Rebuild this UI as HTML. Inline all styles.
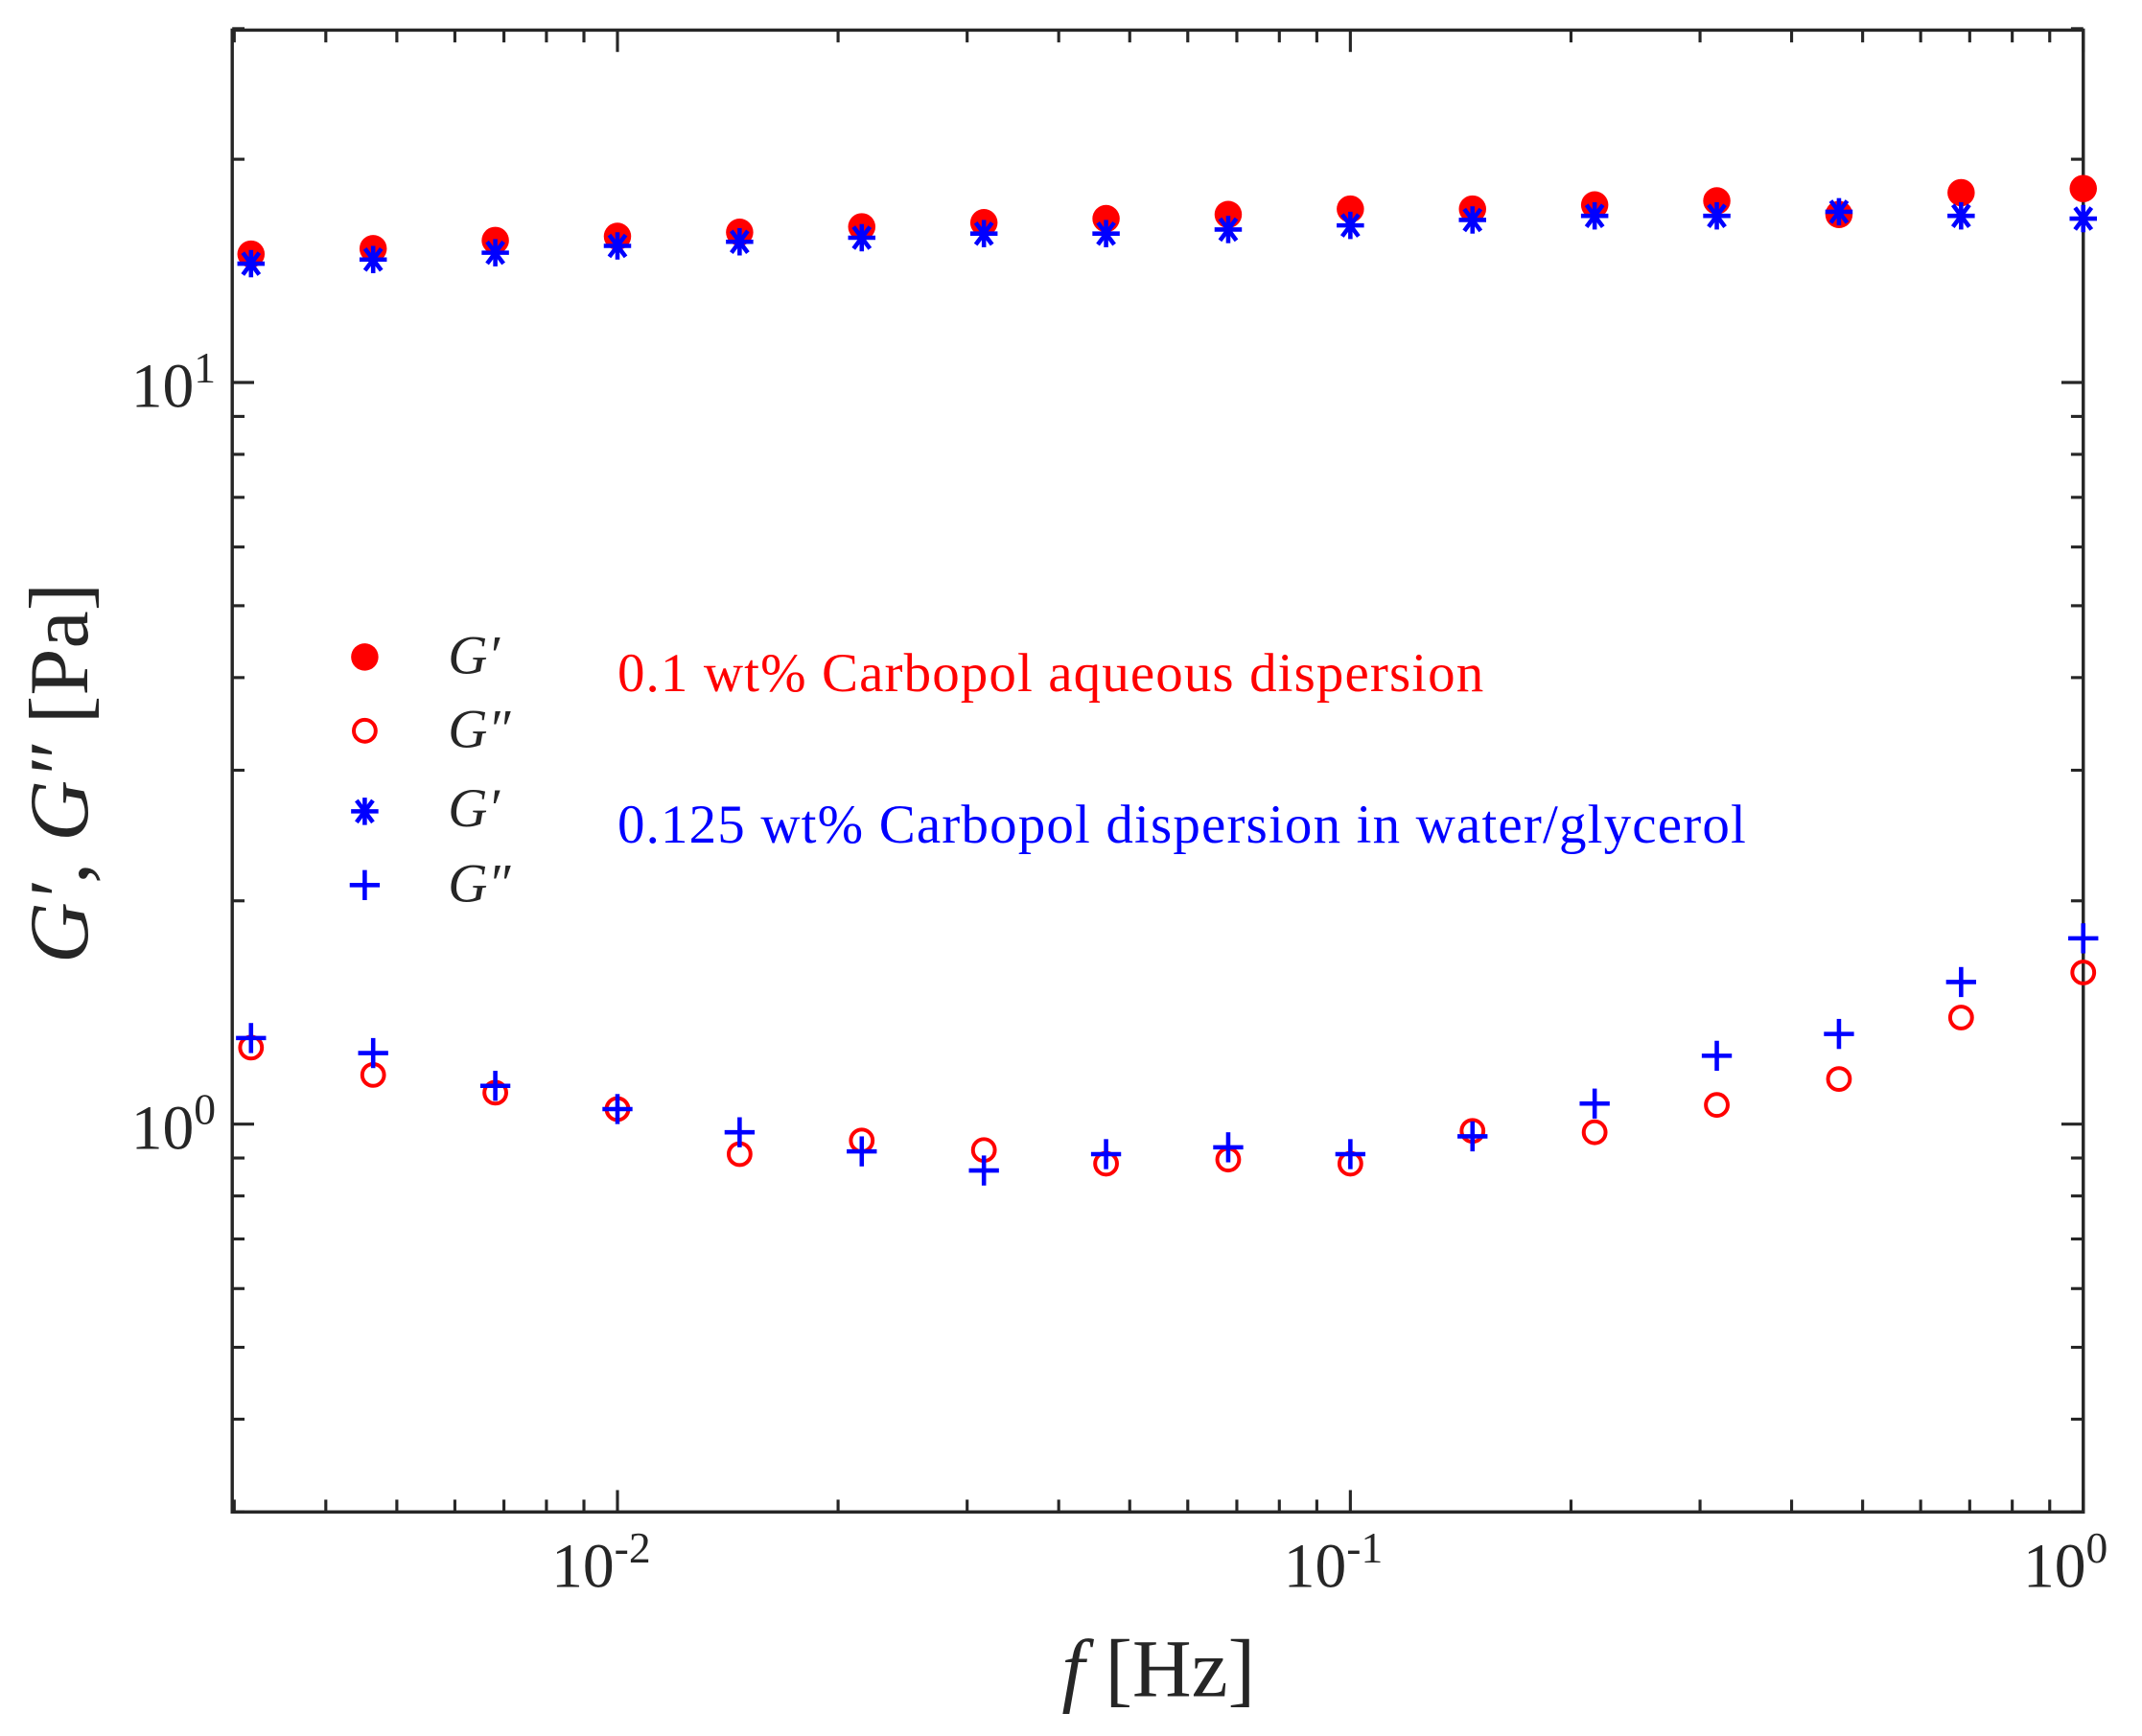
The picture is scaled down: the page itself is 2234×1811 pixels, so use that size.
<!DOCTYPE html>
<html><head><meta charset="utf-8"><style>
html,body{margin:0;padding:0;background:#fff}
svg{display:block}
text{font-family:"Liberation Serif",serif;fill:#262626}
</style></head><body>
<svg id="s" width="2234" height="1811" viewBox="0 0 1568 1271" xmlns="http://www.w3.org/2000/svg">
<rect x="0" y="0" width="1568" height="1271" fill="#fff"/>
<g id="ticks" stroke="#262626" stroke-width="2.2" fill="none"></g>
<rect x="170" y="22" width="1355" height="1085" fill="none" stroke="#262626" stroke-width="2.4"/>
<g id="pts"></g>
<text x="158" y="298" font-size="46" text-anchor="end">10<tspan dy="-18" font-size="32">1</tspan></text>
<text x="158" y="841" font-size="46" text-anchor="end">10<tspan dy="-18" font-size="32">0</tspan></text>
<text x="440" y="1162" font-size="46" text-anchor="middle">10<tspan dy="-18" font-size="32">-2</tspan></text>
<text x="976" y="1162" font-size="46" text-anchor="middle">10<tspan dy="-18" font-size="32">-1</tspan></text>
<text x="1512" y="1162" font-size="46" text-anchor="middle">10<tspan dy="-18" font-size="32">0</tspan></text>
<text x="848" y="1242" font-size="60" text-anchor="middle"><tspan font-style="italic">f</tspan>  [Hz]</text>
<text transform="translate(64,566) rotate(-90)" font-size="62" text-anchor="middle"><tspan font-style="italic">G′</tspan>, <tspan font-style="italic">G″</tspan> [Pa]</text>
<g id="leg"></g>
<text x="328" y="493" font-size="40" font-style="italic">G′</text>
<text x="328" y="547" font-size="40" font-style="italic">G″</text>
<text x="328" y="605" font-size="40" font-style="italic">G′</text>
<text x="328" y="660" font-size="40" font-style="italic">G″</text>
<text x="452" y="506" font-size="40" textLength="634" style="fill:#ff0000">0.1 wt% Carbopol aqueous dispersion</text>
<text x="452" y="617" font-size="40" textLength="826" style="fill:#0000ff">0.125 wt% Carbopol dispersion in water/glycerol</text>
</svg>
<script>
const NS="http://www.w3.org/2000/svg";
const X=f=>1525+536.5*Math.log10(f), Y=v=>823-543*Math.log10(v);
const t=document.getElementById('ticks');
function ln(x1,y1,x2,y2,p){const l=document.createElementNS(NS,'line');l.setAttribute('x1',x1);l.setAttribute('y1',y1);l.setAttribute('x2',x2);l.setAttribute('y2',y2);(p||t).appendChild(l);return l;}
for(let d=-3;d<=0;d++)for(let m=1;m<=9;m++){const f=m*Math.pow(10,d);if(f<0.00299||f>1.0001)continue;const x=X(f);const L=m==1?16:9;ln(x,1107,x,1107-L);ln(x,22,x,22+L);}
for(let d=-1;d<=1;d++)for(let m=1;m<=9;m++){const v=m*Math.pow(10,d);if(v<0.299||v>30.01)continue;const y=Y(v);const L=m==1?16:9;ln(170,y,170+L,y);ln(1525,y,1525-L,y);}
const p=document.getElementById('pts');
function el(n,a,par){const e=document.createElementNS(NS,n);for(const k in a)e.setAttribute(k,a[k]);(par||p).appendChild(e);return e;}
function fc(x,y,g){el('circle',{cx:x,cy:y,r:10,fill:'#ff0000'},g);}
function oc(x,y,g){el('circle',{cx:x,cy:y,r:8,fill:'none',stroke:'#ff0000','stroke-width':2.8},g);}
function st(x,y,g){const s=10;const gg=el('g',{stroke:'#0000ff','stroke-width':3.2},g);
 ln(x-s,y,x+s,y,gg);ln(x,y-s,x,y+s,gg);ln(x-s*0.6,y-s*0.8,x+s*0.6,y+s*0.8,gg);ln(x-s*0.6,y+s*0.8,x+s*0.6,y-s*0.8,gg);}
function pl(x,y,g){const s=11;const gg=el('g',{stroke:'#0000ff','stroke-width':3.2},g);ln(x-s,y,x+s,y,gg);ln(x,y-s,x,y+s,gg);}
const xs=[];for(let k=0;k<16;k++)xs.push(X(Math.pow(10,-2.5+k/6)));
const rf=[186,182,176,173,170,166,163,160,157,153,153,150,147,157,141,138];
const bs=[193,190,185,180,177,174,171,171,168,165,161,158,158,155,158,160];
const ro=[767,787,800,812,845,835,842,852,849,852,828,829,809,790,745,712];
const bp=[760,771,795,812,829,843,857,845,840,845,832,808,773,757,719,687];
for(let k=0;k<16;k++){fc(xs[k],rf[k]);oc(xs[k],ro[k]);}
for(let k=0;k<16;k++){st(xs[k],bs[k]);pl(xs[k],bp[k]);}
const lg=document.getElementById('leg');
fc(267,481,lg);oc(267,535,lg);st(267,594,lg);pl(267,648,lg);
</script>
</body></html>
